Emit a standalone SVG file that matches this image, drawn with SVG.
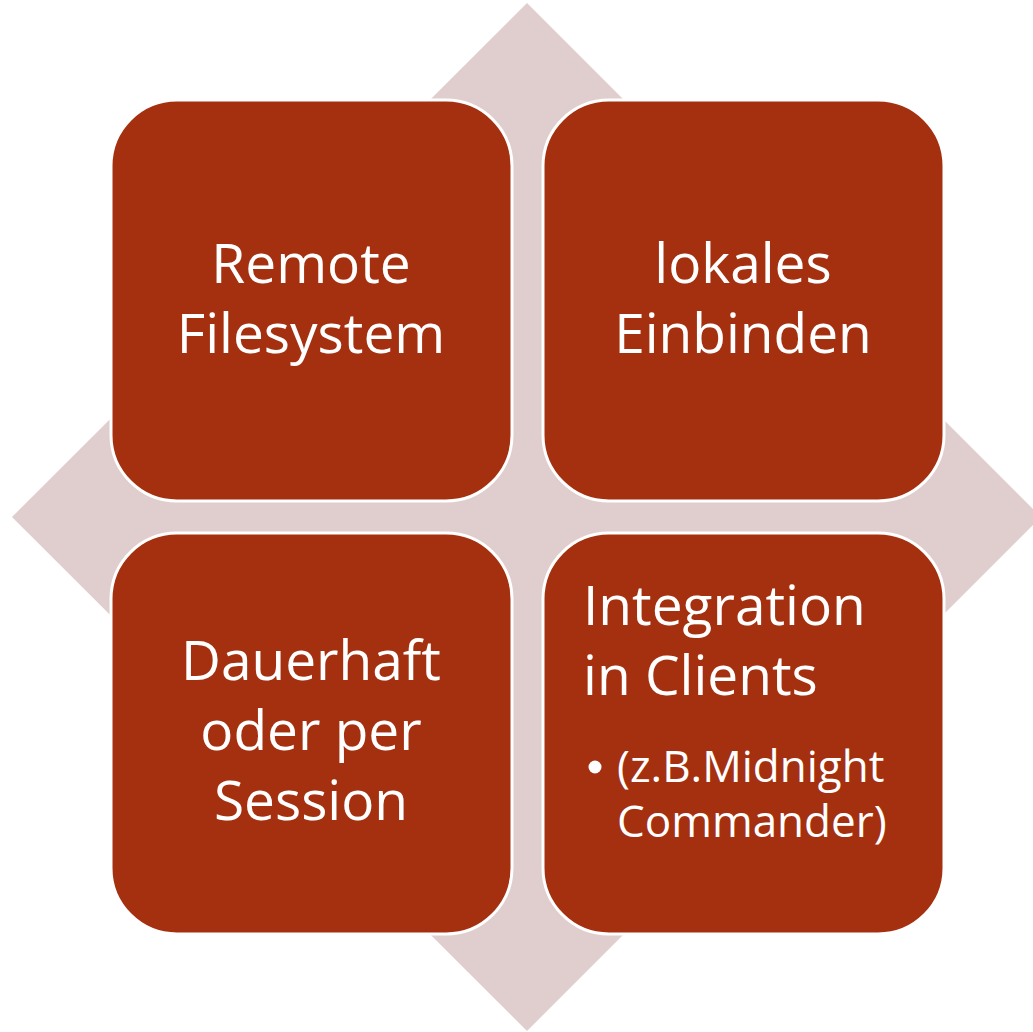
<svg xmlns="http://www.w3.org/2000/svg" width="1033" height="1032" viewBox="0 0 1033 1032">
<style>
.box{fill:#A53010;stroke:#FFFFFF;stroke-width:3}
.t{font-family:"Open Sans","Noto Sans",sans-serif;fill:#FFFFFF;font-size:55px}
.c{text-anchor:middle}
.s{font-size:44px}
</style>
<rect width="1033" height="1032" fill="#FFFFFF"/>
<g id="diamond">
<polygon points="527,3 1041,517 527,1031 12,517" fill="#E0CDCD"/>
</g>
<g id="connectors"></g>
<g id="node-tl">
<rect class="box" x="111" y="100" width="401" height="401" rx="66" ry="66"/>
<text class="t c" x="311" y="283">Remote</text>
<text class="t c" x="311" y="353">Filesystem</text>
</g>
<g id="node-tr">
<rect class="box" x="543" y="100" width="401" height="401" rx="66" ry="66"/>
<text class="t c" x="743" y="283">lokales</text>
<text class="t c" x="743" y="353">Einbinden</text>
</g>
<g id="node-bl">
<rect class="box" x="111" y="533" width="401" height="401" rx="66" ry="66"/>
<text class="t c" x="311" y="680">Dauerhaft</text>
<text class="t c" x="311" y="750">oder per</text>
<text class="t c" x="311" y="820">Session</text>
</g>
<g id="node-br">
<rect class="box" x="543" y="533" width="401" height="401" rx="66" ry="66"/>
<text class="t" x="583" y="625">Integration</text>
<text class="t" x="583" y="695">in Clients</text>
<circle cx="595" cy="767" r="6.5" fill="#FFFFFF"/>
<text class="t s" x="617" y="782">(z.B.Midnight</text>
<text class="t s" x="617" y="837">Commander)</text>
</g>
</svg>
